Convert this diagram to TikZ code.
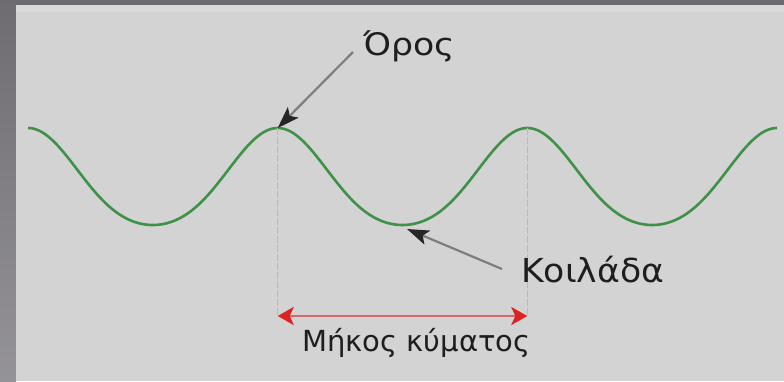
\documentclass[tikz,border=0pt]{standalone}
\usepackage{fontspec}
\setmainfont{DejaVu Sans}
\usetikzlibrary{arrows.meta}
\definecolor{frame}{HTML}{6C6A70}
\definecolor{frameL}{HTML}{7A787E}
\definecolor{panel}{HTML}{D3D3D3}
\definecolor{panelTop}{HTML}{D9D9D9}
\definecolor{wave}{HTML}{3E9146}
\definecolor{guide}{HTML}{E4A6A6}
\definecolor{dimline}{HTML}{D66A6A}
\definecolor{dimhead}{HTML}{DD2222}
\definecolor{pointer}{HTML}{7E7E7E}
\definecolor{txt}{HTML}{1E1E1E}
\tikzset{
  lbl/.style={inner sep=0pt, text=txt, anchor=base west},
  pointerarrow/.style={draw=pointer, line width=2.2pt, -{Stealth[length=22pt,width=15pt,inset=5pt,color=black!85]}},
  guideline/.style={draw=guide, line width=1.4pt, dash pattern=on 7pt off 2pt},
  dimarrow/.style={draw=dimline, line width=2.8pt, {Stealth[length=16pt,width=18pt,inset=4pt,color=dimhead]}-{Stealth[length=16pt,width=18pt,inset=4pt,color=dimhead]}},
}
\begin{document}
\begin{tikzpicture}[x=1pt,y=-1pt]
\useasboundingbox (0,0) rectangle (784,381);
% frame
\fill[frame] (0,0) rectangle (784,381);
\shade[top color=frameL!90!black, bottom color=frameL!80!white] (0,0) rectangle (16,381);
\fill[panel] (16,5) rectangle (784,381);
\fill[panelTop] (16,5) rectangle (784,12);
% wave
\draw[wave, line width=2.6pt] plot[domain=28:777, samples=300, smooth]
  (\x, {181.5 - 48.5*cos(1.44191*(\x-28)) - 5*cos(2.88381*(\x-28))});
% key points
\coordinate (crestA) at (277.7,128);
\coordinate (crestB) at (527.3,128);
\coordinate (trough) at (407,229);
\coordinate (footA) at (277.7,316);
\coordinate (footB) at (527.3,316);
\coordinate (tailA) at (353,52);
\coordinate (tailB) at (502,269);
% guides
\draw[guideline] (crestA) -- (footA);
\draw[guideline] (crestB) -- (footB);
\draw[dimarrow] (footA) -- (footB);
% labels
\node[lbl, font=\fontsize{31}{31}\selectfont, xscale=1.12] (oros) at (363,55) {Όρος};
\node[lbl, font=\fontsize{33}{33}\selectfont, xscale=1.05] (koil) at (521,282) {Κοιλάδα};
\node[lbl, font=\fontsize{29}{29}\selectfont, anchor=base] (mikos) at (416.5,351) {Μήκος κύματος};
% pointers
\draw[pointerarrow] (tailA) -- (crestA);
\draw[pointerarrow] (tailB) -- (trough);
\end{tikzpicture}
\end{document}
